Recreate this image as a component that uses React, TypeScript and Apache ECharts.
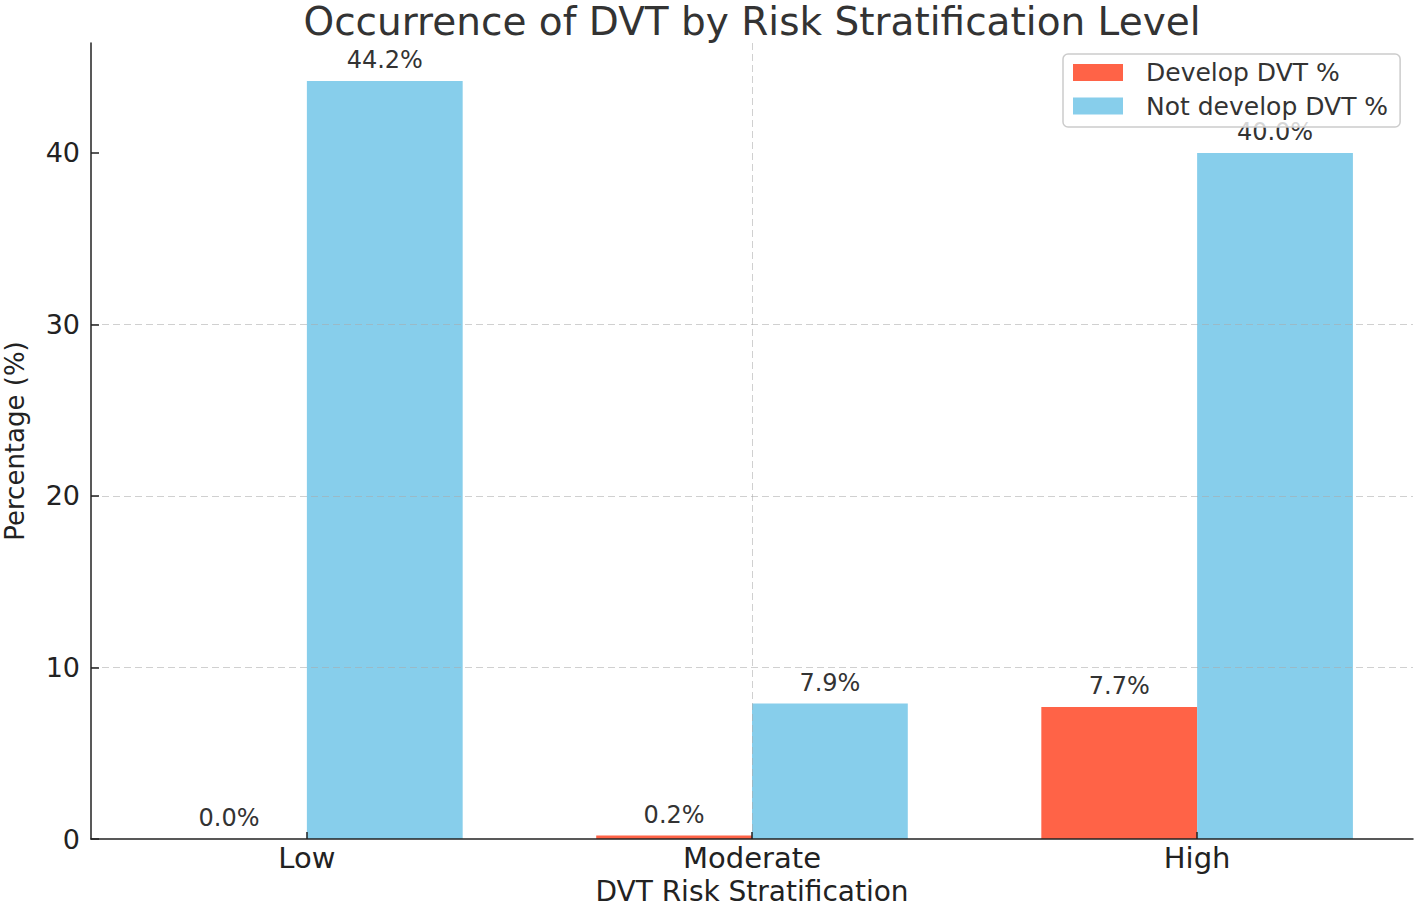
import React, { useEffect, useRef } from "react";
import * as echarts from "echarts";

const categories = ["Low", "Moderate", "High"];
const developPct = [0.0, 0.2, 7.7];
const notDevelopPct = [44.2, 7.9, 40.0];
const yTicks = [0, 10, 20, 30, 40];
const xTicks = [0, 1, 2];
const seriesNames = ["Develop DVT %", "Not develop DVT %"];

const FONT = "DejaVu Sans";
const BAR_W = 0.35;

function makeRender(side: number) {
  return (params: any, api: any) => {
    const xi = api.value(0);
    const v = api.value(1);
    const x0 = side < 0 ? xi - BAR_W : xi;
    const x1 = side < 0 ? xi : xi + BAR_W;
    const pTop = api.coord([x0, v]);
    const pBot = api.coord([x1, 0]);
    const xc = (x0 + x1) / 2;
    const lab = api.coord([xc, v + 0.5]);
    return {
      type: "group",
      children: [
        {
          type: "rect",
          shape: {
            x: pTop[0],
            y: pTop[1],
            width: pBot[0] - pTop[0],
            height: pBot[1] - pTop[1],
          },
          style: { fill: api.visual("color") },
        },
        {
          type: "text",
          x: lab[0],
          y: lab[1],
          style: {
            text: v.toFixed(1) + "%",
            fill: "#333333",
            font: `24px "${FONT}"`,
            textAlign: "center",
            textVerticalAlign: "bottom",
          },
        },
      ],
    };
  };
}

export default function App() {
  const ref = useRef<HTMLDivElement>(null);
  useEffect(() => {
    document.body.style.margin = "0";
    const chart = echarts.init(ref.current!, null, { renderer: "svg" });
    const gridLine = {
      show: true,
      lineStyle: { color: "rgba(170,170,170,0.55)", width: 1, type: [7, 4] },
    };
    chart.setOption({
      animation: false,
      backgroundColor: "#ffffff",
      textStyle: { fontFamily: FONT },
      grid: {
        left: 91,
        right: 4,
        top: 43,
        bottom: 67,
        containLabel: false,
        outerBoundsMode: "none",
      },
      graphic: [
        {
          type: "text",
          x: 752,
          y: 21,
          z: 10,
          style: {
            text: "Occurrence of DVT by Risk Stratification Level",
            fill: "#333333",
            font: `39px "${FONT}"`,
            textAlign: "center",
            textVerticalAlign: "middle",
          },
        },
      ],
      legend: {
        orient: "vertical",
        left: 1063,
        top: 54,
        data: seriesNames,
        icon: "rect",
        itemWidth: 50,
        itemHeight: 17,
        itemGap: 8.5,
        padding: [6, 12, 8.5, 10],
        borderColor: "#cccccc",
        borderWidth: 1.5,
        borderRadius: 5,
        backgroundColor: "rgba(255,255,255,0.8)",
        textStyle: {
          fontFamily: FONT,
          fontSize: 25,
          color: "#333333",
          padding: [0, 0, 0, 18],
        },
        z: 10,
      },
      xAxis: {
        type: "value",
        min: -0.485,
        max: 2.485,
        z: 3,
        axisLine: {
          show: true,
          onZero: false,
          lineStyle: { color: "#222222", width: 1.5 },
        },
        axisTick: {
          show: true,
          inside: true,
          length: 7,
          customValues: xTicks,
          lineStyle: { color: "#222222", width: 1.5 },
        },
        axisLabel: {
          customValues: xTicks,
          formatter: (v: number) => categories[Math.round(v)] ?? "",
          fontSize: 29,
          fontFamily: FONT,
          color: "#222222",
          margin: 4,
        },
        splitLine: { ...gridLine, showMinLine: false, showMaxLine: false },
        name: "DVT Risk Stratification",
        nameLocation: "middle",
        nameGap: 38,
        nameTextStyle: { fontSize: 28, fontFamily: FONT, color: "#222222" },
      },
      yAxis: {
        type: "value",
        min: 0,
        max: 46.41,
        interval: 10,
        z: 3,
        axisLine: {
          show: true,
          onZero: false,
          lineStyle: { color: "#222222", width: 1.5 },
        },
        axisTick: {
          show: true,
          inside: true,
          length: 8,
          customValues: yTicks,
          lineStyle: { color: "#222222", width: 1.5 },
        },
        axisLabel: {
          customValues: yTicks,
          fontSize: 27,
          fontFamily: FONT,
          color: "#222222",
          margin: 11,
        },
        splitLine: { ...gridLine, showMinLine: false, showMaxLine: false },
        name: "Percentage (%)",
        nameLocation: "middle",
        nameGap: 63,
        nameTextStyle: { fontSize: 26, fontFamily: FONT, color: "#222222" },
      },
      series: [
        {
          name: seriesNames[0],
          type: "custom",
          z: 2,
          itemStyle: { color: "#FF6347" },
          renderItem: makeRender(-1),
          encode: { x: 0, y: 1 },
          data: developPct.map((v, i) => [i, v]),
        },
        {
          name: seriesNames[1],
          type: "custom",
          z: 2,
          itemStyle: { color: "#87CEEB" },
          renderItem: makeRender(1),
          encode: { x: 0, y: 1 },
          data: notDevelopPct.map((v, i) => [i, v]),
        },
      ],
    });
    return () => chart.dispose();
  }, []);
  return (
    <div
      ref={ref}
      style={{ position: "absolute", left: 0, top: 0, width: 1417, height: 906 }}
    />
  );
}
